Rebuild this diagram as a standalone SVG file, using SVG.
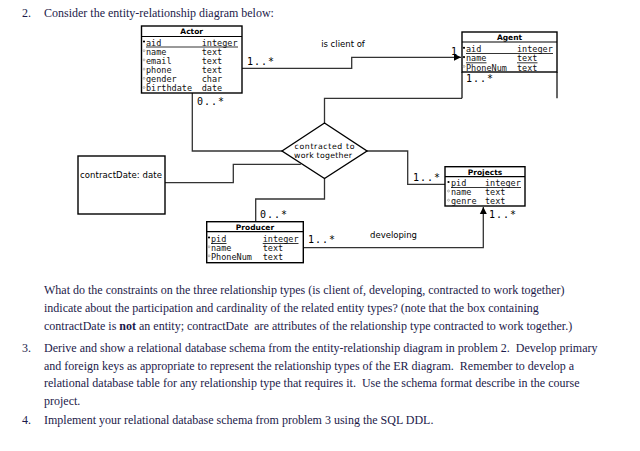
<svg xmlns="http://www.w3.org/2000/svg" width="640" height="451" viewBox="0 0 640 451">
<defs>
<marker id="arr" markerWidth="8" markerHeight="8" refX="7" refY="4" orient="auto" markerUnits="userSpaceOnUse">
<path d="M0,0.5 L7,4 L0,7.5 Z" fill="#000"/>
</marker>
<style>
.body{font-family:"Liberation Serif","Times New Roman",serif;font-size:12px;fill:#1c1a4a}
.box{fill:#fff;stroke:#000;stroke-width:1.4}
.sep{stroke:#000;stroke-width:1.2}
.ttl{font-family:"DejaVu Sans",sans-serif;font-weight:bold;font-size:7.5px;fill:#000;text-anchor:middle}
.row{font-family:"DejaVu Sans Mono",monospace;font-size:8.5px;fill:#111}
.card{font-family:"DejaVu Sans Mono",monospace;font-size:10px;fill:#000}
.lbl{font-family:"DejaVu Sans",sans-serif;font-size:8.5px;fill:#000}
.dlbl{font-family:"DejaVu Sans",sans-serif;font-size:7.8px;fill:#000;text-anchor:middle}
.ul{stroke:#000;stroke-width:0.8}
.pk{fill:#000}
.nk{fill:#fff;stroke:#888;stroke-width:0.6}
.con{fill:none;stroke:#333;stroke-width:1.3}
</style>
</defs>
<rect width="640" height="451" fill="#fff"/>

<text class="body" x="22" y="17">2.</text>
<text class="body" x="44" y="17">Consider the entity-relationship diagram below:</text>

<g id="connectors">
<polyline class="con" points="242,68.3 351.7,68.3 351.7,57.3 461,57.3" marker-end="url(#arr)"/>
<polyline class="con" points="192.3,93 192.3,151 282,151"/>
<polyline class="con" points="324.5,123 324.5,98.3 462,98.3"/>
<polyline class="con" points="367,151 407.7,151 407.7,184.3 445,184.3"/>
<polyline class="con" points="324.5,178.5 324.5,199 255.7,199 255.7,221.7"/>
<polyline class="con" points="165,182.7 233.3,182.7 233.3,164.3 300.8,164.3"/>
<polyline class="con" points="303.3,247.7 483.3,247.7 483.3,207" marker-end="url(#arr)"/>
<text class="lbl" x="343" y="47.3" text-anchor="middle">is client of</text>
<text class="lbl" x="370" y="238">developing</text>
<text class="card" x="247" y="65" textLength="27">1..*</text>
<text class="card" x="451" y="55">1</text>
<text class="card" x="197" y="105" textLength="27">0..*</text>
<text class="card" x="466" y="81.5" textLength="27">1..*</text>
<text class="card" x="413" y="180.5" textLength="27">1..*</text>
<text class="card" x="489" y="218" textLength="27">1..*</text>
<text class="card" x="260" y="218" textLength="27">0..*</text>
<text class="card" x="308" y="242.5" textLength="27">1..*</text>
</g>

<g id="actor">
<rect class="box" x="141.5" y="26" width="100.5" height="67"/>
<line class="sep" x1="141.5" y1="36.5" x2="242" y2="36.5"/>
<text class="ttl" x="191.7" y="34.2">Actor</text>
<circle class="pk" cx="144" cy="41.5" r="1.1"/>
<circle class="nk" cx="144" cy="50.7" r="1"/>
<circle class="nk" cx="144" cy="59.9" r="1"/>
<circle class="nk" cx="144" cy="69.1" r="1"/>
<circle class="nk" cx="144" cy="78.3" r="1"/>
<circle class="nk" cx="144" cy="87.5" r="1"/>
<text class="row" x="146" y="45.5">aid</text><text class="row" x="201.7" y="45.5">integer</text>
<line class="ul" x1="146" y1="47" x2="238" y2="47"/>
<text class="row" x="146" y="54.7">name</text><text class="row" x="201.7" y="54.7">text</text>
<text class="row" x="146" y="63.9">email</text><text class="row" x="201.7" y="63.9">text</text>
<text class="row" x="146" y="73.1">phone</text><text class="row" x="201.7" y="73.1">text</text>
<text class="row" x="146" y="82.3">gender</text><text class="row" x="201.7" y="82.3">char</text>
<text class="row" x="146" y="91.3">birthdate</text><text class="row" x="201.7" y="91.3">date</text>
</g>

<g id="agent">
<rect class="box" x="462" y="32" width="95" height="40"/>
<line class="sep" x1="462" y1="42" x2="557" y2="42"/>
<line class="sep" x1="462" y1="72" x2="462" y2="98.3"/>
<line class="sep" x1="557" y1="72" x2="557" y2="98.3"/>
<text class="ttl" x="509.5" y="40.3">Agent</text>
<circle class="pk" cx="464" cy="47.8" r="1.1"/>
<circle class="pk" cx="464" cy="57.1" r="1.1"/>
<circle class="nk" cx="464" cy="66.4" r="1"/>
<text class="row" x="466" y="52">aid</text><text class="row" x="517" y="52">integer</text>
<line class="ul" x1="466" y1="53.5" x2="553" y2="53.5"/>
<text class="row" x="466" y="61.3">name</text><text class="row" x="517" y="61.3">text</text>
<line class="ul" x1="466" y1="62.8" x2="486.5" y2="62.8"/>
<line class="ul" x1="517" y1="62.8" x2="537.5" y2="62.8"/>
<text class="row" x="466" y="70.5">PhoneNum</text><text class="row" x="517" y="70.5">text</text>
</g>

<g id="contracted">
<polygon points="282,151 324.5,123 367,151 324.5,178.5" fill="#fff" stroke="#000" stroke-width="1.4"/>
<text class="dlbl" x="324.5" y="149.3" textLength="60">contracted to</text>
<text class="dlbl" x="323" y="158.3" textLength="58">work together</text>
</g>

<g id="contractDate">
<rect class="box" x="78" y="156" width="87" height="58"/>
<text class="lbl" x="80" y="177.5" textLength="82">contractDate: date</text>
</g>

<g id="projects">
<rect class="box" x="445" y="166.7" width="80" height="39.3"/>
<line class="sep" x1="445" y1="176.7" x2="525" y2="176.7"/>
<text class="ttl" x="485" y="174.9">Projects</text>
<circle class="pk" cx="448.5" cy="182" r="1.1"/>
<circle class="nk" cx="448.5" cy="191" r="1"/>
<circle class="nk" cx="448.5" cy="200.2" r="1"/>
<text class="row" x="451" y="186">pid</text><text class="row" x="485" y="186">integer</text>
<line class="ul" x1="451" y1="187.5" x2="521" y2="187.5"/>
<text class="row" x="451" y="195">name</text><text class="row" x="485" y="195">text</text>
<text class="row" x="451" y="204">genre</text><text class="row" x="485" y="204">text</text>
</g>

<g id="producer">
<rect class="box" x="206.7" y="221.7" width="96.6" height="41"/>
<line class="sep" x1="206.7" y1="231.7" x2="303.3" y2="231.7"/>
<text class="ttl" x="255" y="229.9">Producer</text>
<circle class="pk" cx="209" cy="237.5" r="1.1"/>
<circle class="nk" cx="209" cy="246.8" r="1"/>
<circle class="nk" cx="209" cy="255.8" r="1"/>
<text class="row" x="211" y="242">pid</text><text class="row" x="262.7" y="242">integer</text>
<line class="ul" x1="211" y1="243.5" x2="226.5" y2="243.5"/>
<line class="ul" x1="262.7" y1="243.5" x2="298.5" y2="243.5"/>
<text class="row" x="211" y="251.3">name</text><text class="row" x="262.7" y="251.3">text</text>
<text class="row" x="211" y="260.3">PhoneNum</text><text class="row" x="262.7" y="260.3">text</text>
</g>

<text class="body" x="44" y="294">What do the constraints on the three relationship types (is client of, developing, contracted to work together)</text>
<text class="body" x="44" y="312">indicate about the participation and cardinality of the related entity types?  (note that the box containing</text>
<text class="body" x="44" y="330" xml:space="preserve">contractDate is <tspan font-weight="bold">not</tspan> an entity; contractDate  are attributes of the relationship type contracted to work together.)</text>

<text class="body" x="22" y="352">3.</text>
<text class="body" x="44" y="352" xml:space="preserve">Derive and show a relational database schema from the entity-relationship diagram in problem 2.  Develop primary</text>
<text class="body" x="44" y="369.5" xml:space="preserve">and foreign keys as appropriate to represent the relationship types of the ER diagram.  Remember to develop a</text>
<text class="body" x="44" y="387" xml:space="preserve">relational database table for any relationship type that requires it.  Use the schema format describe in the course</text>
<text class="body" x="44" y="404.5">project.</text>
<text class="body" x="22" y="424">4.</text>
<text class="body" x="44" y="424">Implement your relational database schema from problem 3 using the SQL DDL.</text>
</svg>
